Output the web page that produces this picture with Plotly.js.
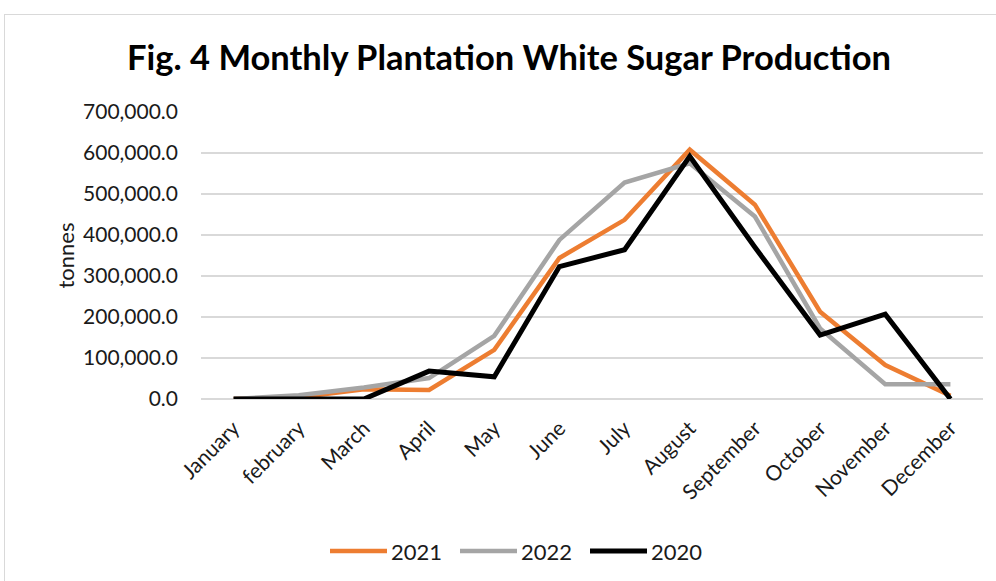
<!DOCTYPE html>
<html>
<head>
<meta charset="utf-8">
<script src="https://cdn.plot.ly/plotly-3.0.1.min.js"></script>
<style>
  html, body { margin: 0; padding: 0; background: #fff; }
  #frame { position: absolute; left: 4px; top: 14px; width: 1000px; height: 600px;
           border: 1px solid #d9d9d9; box-sizing: border-box; }
  #chart { position: absolute; left: 0; top: 0; width: 996px; height: 581px; }
</style>
</head>
<body>
<div id="frame"></div>
<div id="chart"></div>
<script>
// Months on the category axis
const months = ["January", "february", "March", "April", "May", "June",
                "July", "August", "September", "October", "November", "December"];

// Monthly plantation white sugar production, tonnes
const prod2021 = [0, 4000, 24000, 22000, 120000, 344000, 437000, 608000, 474000, 213000, 83000, 8000];
const prod2022 = [0, 9000, 28000, 51000, 154000, 388000, 528000, 575000, 445000, 172000, 36000, 36000];
const prod2020 = [0, 0, 0, 68000, 54000, 323000, 364000, 592000, 370000, 156000, 207000, 0];

const seriesNames = ["2021", "2022", "2020"];
const seriesColors = ["#ED7D31", "#A5A5A5", "#000000"];
const seriesData = [prod2021, prod2022, prod2020];

const traces = seriesData.map((vals, i) => ({
  type: "scatter",
  mode: "lines",
  name: seriesNames[i],
  x: months,
  y: vals,
  line: { color: seriesColors[i], width: i === 2 ? 5 : 4.5, shape: "linear" },
  hoverinfo: "x+y+name"
}));

const font = "Lato, 'Liberation Sans', sans-serif";

// Plot area geometry in pixels, used to lay out the legend below the axis
const W = 996, H = 581;
const M = { l: 201, r: 13, t: 112, b: 182 };
const plotW = W - M.l - M.r, plotH = H - M.t - M.b;
const px2x = px => (px - M.l) / plotW;
const py2y = py => (H - M.b - py) / plotH;

// Legend row: a wide line swatch followed by the series name
const legendY = 551, legendStart = 330, swatchLen = 57, entryStep = 130;
const shapes = [], annotations = [];
seriesNames.forEach((name, i) => {
  const x0 = legendStart + i * entryStep;
  shapes.push({
    type: "line", xref: "paper", yref: "paper",
    x0: px2x(x0), x1: px2x(x0 + swatchLen), y0: py2y(legendY), y1: py2y(legendY),
    line: { color: seriesColors[i], width: i === 2 ? 5 : 4.5 }
  });
  annotations.push({
    xref: "paper", yref: "paper", x: px2x(x0 + swatchLen + 2), y: py2y(legendY),
    xanchor: "left", yanchor: "middle", showarrow: false,
    text: name, font: { family: font, size: 22, color: "#1a1a1a" }
  });
});

const layout = {
  width: W,
  height: H,
  paper_bgcolor: "rgba(0,0,0,0)",
  plot_bgcolor: "#ffffff",
  margin: Object.assign({ autoexpand: false }, M),
  title: {
    text: "<b>Fig. 4 Monthly Plantation White Sugar Production</b>",
    font: { family: font, size: 34.5, color: "#000000" },
    x: 0.511, xanchor: "center",
    y: 0.9, yanchor: "middle", yref: "container"
  },
  xaxis: {
    type: "category",
    range: [-0.5, 11.5],
    automargin: false,
    tickangle: -45,
    tickfont: { family: font, size: 21, color: "#1a1a1a" },
    showgrid: false,
    showline: false,
    zeroline: false,
    ticks: "",
    ticklabelstandoff: 12
  },
  yaxis: {
    range: [0, 700000],
    automargin: false,
    tickvals: [0, 100000, 200000, 300000, 400000, 500000, 600000, 700000],
    ticktext: ["0.0", "100,000.0", "200,000.0", "300,000.0", "400,000.0", "500,000.0", "600,000.0", "700,000.0"],
    tickfont: { family: font, size: 21, color: "#1a1a1a" },
    gridcolor: "#d9d9d9",
    gridwidth: 1.5,
    zeroline: true,
    zerolinecolor: "#d9d9d9",
    zerolinewidth: 1.5,
    showline: false,
    ticks: "",
    ticklabelstandoff: 22,
    title: {
      text: "tonnes",
      font: { family: font, size: 22, color: "#1a1a1a" },
      standoff: 2
    }
  },
  showlegend: false,
  shapes: shapes,
  annotations: annotations
};

Plotly.newPlot("chart", traces, layout, { displayModeBar: false, staticPlot: true });
</script>
</body>
</html>
